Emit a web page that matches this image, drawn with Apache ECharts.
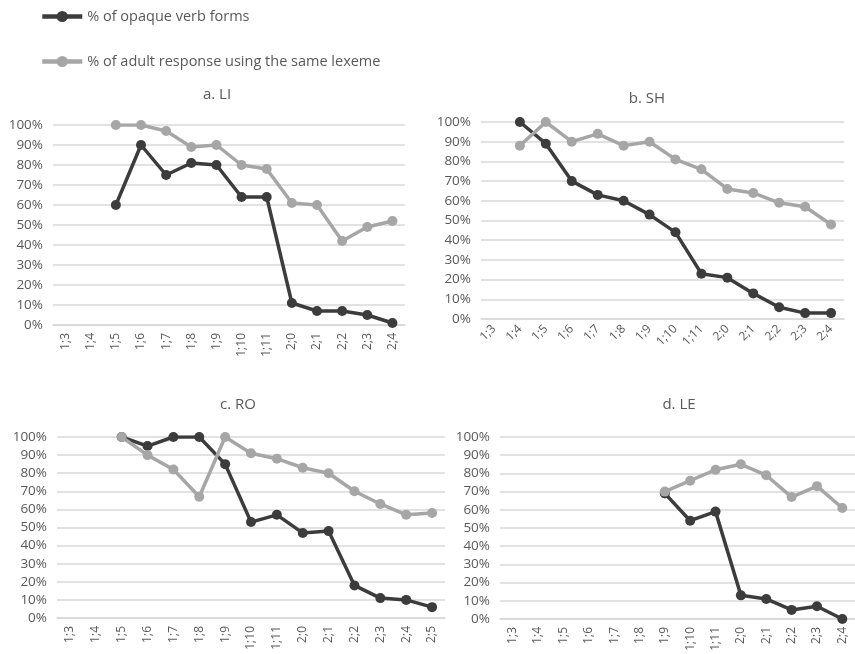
<!DOCTYPE html>
<html>
<head>
<meta charset="utf-8">
<script src="https://cdn.jsdelivr.net/npm/echarts@6/dist/echarts.min.js"></script>
<style>
  html, body { margin: 0; padding: 0; background: #fff; }
  #chart { width: 855px; height: 654px; }
</style>
</head>
<body>
<div id="chart"></div>
<script>
// Age categories (years;months)
const ages14 = ['1;3','1;4','1;5','1;6','1;7','1;8','1;9','1;10','1;11','2;0','2;1','2;2','2;3','2;4'];
const ages15 = ['1;3','1;4','1;5','1;6','1;7','1;8','1;9','1;10','1;11','2;0','2;1','2;2','2;3','2;4','2;5'];

const seriesOpaque = '% of opaque verb forms';
const seriesAdult = '% of adult response using the same lexeme';

// a. LI
const liOpaque = [null, null, 60, 90, 75, 81, 80, 64, 64, 11, 7, 7, 5, 1];
const liAdult  = [null, null, 100, 100, 97, 89, 90, 80, 78, 61, 60, 42, 49, 52];
// b. SH
const shOpaque = [null, 100, 89, 70, 63, 60, 53, 44, 23, 21, 13, 6, 3, 3];
const shAdult  = [null, 88, 100, 90, 94, 88, 90, 81, 76, 66, 64, 59, 57, 48];
// c. RO
const roOpaque = [null, null, 100, 95, 100, 100, 85, 53, 57, 47, 48, 18, 11, 10, 6];
const roAdult  = [null, null, 100, 90, 82, 67, 100, 91, 88, 83, 80, 70, 63, 57, 58];
// d. LE
const leOpaque = [null, null, null, null, null, null, 69, 54, 59, 13, 11, 5, 7, 0];
const leAdult  = [null, null, null, null, null, null, 70, 76, 82, 85, 79, 67, 73, 61];

const panelTitles = ['a. LI', 'b. SH', 'c. RO', 'd. LE'];

const DARK = '#3c3c3c';
const LIGHT = '#a6a6a6';
const TEXT = '#595959';
const FONT = '"Open Sans", "Liberation Sans", sans-serif';

const grids = [
  { left: 53,  top: 125, width: 352, height: 200 },
  { left: 481, top: 122, width: 363, height: 197 },
  { left: 57,  top: 437, width: 388, height: 181 },
  { left: 500, top: 437, width: 355, height: 182 }
];
const titlePos = [
  { x: 212, y: 82 },
  { x: 642, y: 86 },
  { x: 233, y: 392 },
  { x: 674, y: 392 }
];
const cats = [ages14, ages14, ages15, ages14];
const rotations = [90, 45, 90, 90];
const data = [
  [liOpaque, liAdult],
  [shOpaque, shAdult],
  [roOpaque, roAdult],
  [leOpaque, leAdult]
];

const xAxes = cats.map((c, i) => ({
  type: 'category',
  gridIndex: i,
  data: c,
  boundaryGap: true,
  axisLine: { show: true, lineStyle: { color: '#d9d9d9', width: 1.5 } },
  axisTick: { show: false },
  axisLabel: {
    rotate: rotations[i],
    interval: 0,
    color: TEXT,
    fontFamily: FONT,
    fontSize: 12,
    margin: 8
  }
}));

const yAxes = grids.map((g, i) => ({
  type: 'value',
  gridIndex: i,
  min: 0,
  max: 100,
  interval: 10,
  axisLine: { show: false },
  axisTick: { show: false },
  splitLine: { lineStyle: { color: '#d9d9d9', width: 1.5 } },
  axisLabel: {
    formatter: '{value}%',
    color: TEXT,
    fontFamily: FONT,
    fontSize: 13.5,
    margin: 10
  }
}));

const series = [];
data.forEach((pair, i) => {
  [[seriesOpaque, pair[0], DARK], [seriesAdult, pair[1], LIGHT]].forEach(([name, vals, col]) => {
    series.push({
      name: name,
      type: 'line',
      xAxisIndex: i,
      yAxisIndex: i,
      data: vals,
      symbol: 'circle',
      symbolSize: 10,
      showAllSymbol: true,
      connectNulls: false,
      lineStyle: { color: col, width: 3.5 },
      itemStyle: { color: col },
      emphasis: { disabled: true },
      animation: false
    });
  });
});

const chart = echarts.init(document.getElementById('chart'), null, { renderer: 'canvas' });
chart.setOption({
  backgroundColor: '#ffffff',
  animation: false,
  title: panelTitles.map((t, i) => ({
    text: t,
    left: titlePos[i].x,
    top: titlePos[i].y,
    textAlign: 'center',
    textStyle: { color: TEXT, fontFamily: FONT, fontSize: 15, fontWeight: 'normal' }
  })),
  legend: {
    orient: 'vertical',
    left: 35,
    top: 4,
    itemGap: 30,
    itemWidth: 40,
    itemHeight: 14,
    lineStyle: { width: 4.5 },
    textStyle: { color: TEXT, fontFamily: FONT, fontSize: 14.5 },
    data: [seriesOpaque, seriesAdult]
  },
  grid: grids.map(g => Object.assign({ containLabel: false }, g)),
  xAxis: xAxes,
  yAxis: yAxes,
  series: series
});
</script>
</body>
</html>
